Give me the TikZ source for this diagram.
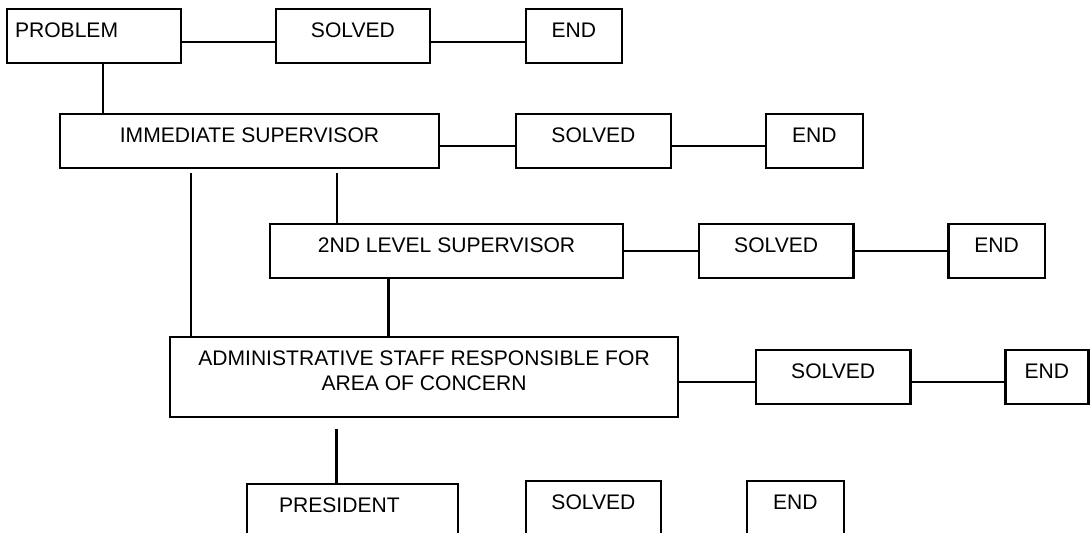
\documentclass[tikz,border=0pt]{standalone}
\usepackage{fontspec}
\setmainfont{Liberation Sans}
\usetikzlibrary{positioning}

\begin{document}
\begin{tikzpicture}[x=0.02cm,y=-0.02cm,
    box/.style={draw,line width=1.3pt,minimum height=1.08cm,inner sep=0pt,outer sep=0pt,
      text height=9pt,text depth=7.2pt,font=\fontsize{12}{14.2}\selectfont},
    link/.style={line width=1.3pt}]
  \useasboundingbox (0,0) rectangle (1091,533);
  \clip (0,0) rectangle (1091,533);

  \node[box,minimum width=3.48cm,text width=3.16cm,inner xsep=0.16cm,align=left] (prob) at (94,36) {PROBLEM};
  \node[box,minimum width=3.08cm,right=1.9cm of prob] (sol1) {SOLVED};
  \node[box,minimum width=1.92cm,right=1.92cm of sol1] (end1) {END};

  \node[box,minimum width=7.58cm] (imm) at (249.5,141) {IMMEDIATE SUPERVISOR};
  \node[box,minimum width=3.1cm,right=1.54cm of imm] (sol2) {SOLVED};
  \node[box,minimum width=1.94cm,right=1.9cm of sol2] (end2) {END};

  \node[box,minimum width=7.06cm] (lvl2) at (446.5,251) {2ND LEVEL SUPERVISOR};
  \node[box,minimum width=3.09cm,right=1.52cm of lvl2] (sol3) {SOLVED};
  \node[box,minimum width=1.93cm,right=1.9cm of sol3] (end3) {END};

  \node[box,minimum width=10.16cm,minimum height=1.6cm,text height=23.2pt,text depth=7.76pt,align=center] (admin) at (424,377) {ADMINISTRATIVE STAFF RESPONSIBLE FOR\\AREA OF CONCERN};
  \node[box,minimum width=3.09cm,right=1.56cm of admin] (sol4) {SOLVED};
  \node[box,minimum width=1.66cm,right=1.9cm of sol4] (end4) {END};

  \node[box,minimum width=4.22cm,text width=2.94cm,inner xsep=0.64cm,align=left] (pres) at (352.5,511) {PRESIDENT};
  \node[box,minimum width=2.7cm,right=1.36cm of pres,yshift=0.06cm] (sol5) {SOLVED};
  \node[box,minimum width=1.94cm,right=1.72cm of sol5] (end5) {END};

  %across
  \draw[link] ([yshift=-0.12cm]prob.east) -- ([yshift=-0.12cm]sol1.west);
  \draw[link] ([yshift=-0.12cm]sol1.east) -- ([yshift=-0.12cm]end1.west);
  \draw[link] ([yshift=-0.1cm]imm.east) -- ([yshift=-0.1cm]sol2.west);
  \draw[link] ([yshift=-0.1cm]sol2.east) -- ([yshift=-0.1cm]end2.west);
  \draw[link] (lvl2.east) -- (sol3.west);
  \draw[link] (sol3.east) -- (end3.west);
  \draw[link] ([yshift=-0.1cm]admin.east) -- ([yshift=-0.1cm]sol4.west);
  \draw[link] ([yshift=-0.1cm]sol4.east) -- ([yshift=-0.1cm]end4.west);

  %down
  \draw[link] ([xshift=0.18cm]prob.south) -- ([xshift=0.18cm]prob.south |- imm.north);
  \draw[link] ([xshift=-1.17cm,yshift=-0.11cm]imm.south) -- ([xshift=-1.17cm]imm.south |- admin.north);
  \draw[link] ([xshift=1.75cm,yshift=-0.11cm]imm.south) -- ([xshift=1.75cm]imm.south |- lvl2.north);
  \draw[link] ([xshift=-1.16cm]lvl2.south) -- ([xshift=-1.16cm]lvl2.south |- admin.north);
  \draw[link] ([xshift=-1.75cm,yshift=-0.24cm]admin.south) -- ([xshift=-1.75cm]admin.south |- pres.north);
\end{tikzpicture}
\end{document}
